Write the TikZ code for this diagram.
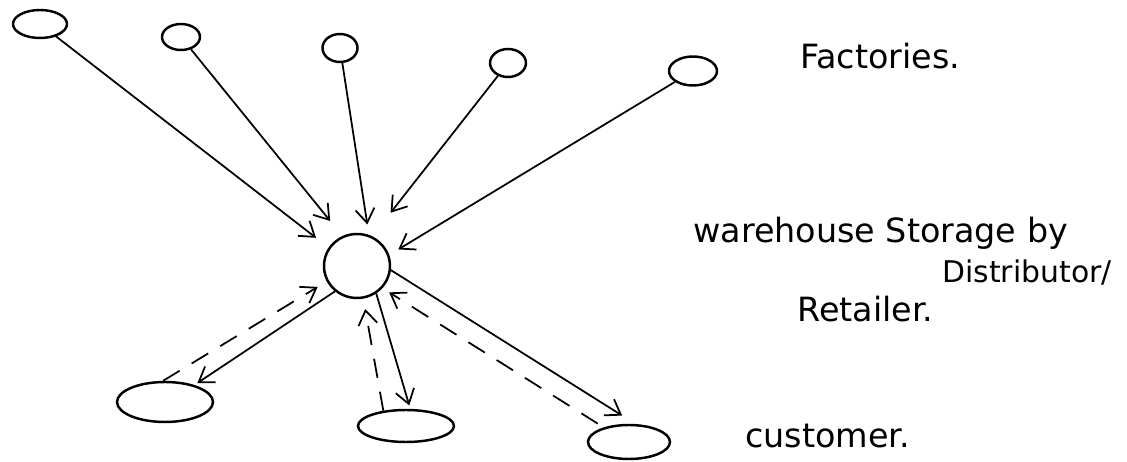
\documentclass[tikz,border=0pt]{standalone}
\usepackage{fontspec}
\setsansfont{DejaVu Sans}
\usetikzlibrary{arrows.meta,shapes.geometric}

\begin{document}
\begin{tikzpicture}[
  x=0.02cm,y=-0.02cm,
  every node/.style={font=\sffamily\fontsize{19}{23}\selectfont},
  site/.style={draw,ellipse,line width=1.4pt,inner sep=0pt},
  arr/.style={-{Straight Barb[length=2.8mm,width=3.8mm]},line width=1pt},
  back/.style={arr,dash pattern=on 11pt off 8pt},
  lbl/.style={anchor=west,inner sep=0pt}
]
\useasboundingbox (0,0) rectangle (1127,462);
% factories
\node[site,minimum width=1.08cm,minimum height=0.56cm] (f1) at (40,24) {};
\node[site,minimum width=0.76cm,minimum height=0.52cm] (f2) at (181,37) {};
\node[site,minimum width=0.70cm,minimum height=0.56cm] (f3) at (340,48) {};
\node[site,minimum width=0.72cm,minimum height=0.56cm] (f4) at (508,63) {};
\node[site,minimum width=0.96cm,minimum height=0.58cm] (f5) at (693,71) {};
% warehouse
\node[site,minimum width=1.32cm,minimum height=1.28cm] (w) at (357,266) {};
% customers
\node[site,minimum width=1.92cm,minimum height=0.80cm] (c1) at (165,402) {};
\node[site,minimum width=1.92cm,minimum height=0.64cm] (c2) at (406,426) {};
\node[site,minimum width=1.64cm,minimum height=0.68cm] (c3) at (629,442) {};
% labels
\node[lbl] (tf) at (800,56) {Factories.};
\node[lbl] (tw) at (693,233) {warehouse Storage by};
\node[lbl,anchor=east,font=\sffamily\fontsize{17}{20}\selectfont] (td) at (1112,273) {Distributor/};
\node[lbl] (tr) at (797,309) {Retailer.};
\node[lbl] (tc) at (745,436) {customer.};
% supply
\draw[arr,shorten >=9pt] (f1) -- (w.147);
\draw[arr,shorten >=11pt] (f2) -- (w.116);
\draw[arr,shorten >=6pt] (f3) -- (w.69);
\draw[arr,shorten >=17pt] (f4) -- (w.63);
\draw[arr,shorten >=6pt] (f5) -- (w.19);
% delivery and returns
\draw[arr,shorten >=2pt] (w.229) -- (c1.30);
\draw[back,shorten >=6pt] (c1.95) -- (w.207);
\draw[arr,shorten >=2pt] (w.-55) -- (c2.76);
\draw[back,shorten >=6pt] (c2.146) -- (w.-79);
\draw[arr,shorten >=9pt] (w.-7) -- (c3.70);
\draw[back,shorten <=4pt,shorten >=4.5pt] (c3.150) -- (w.-41);
\end{tikzpicture}
\end{document}
